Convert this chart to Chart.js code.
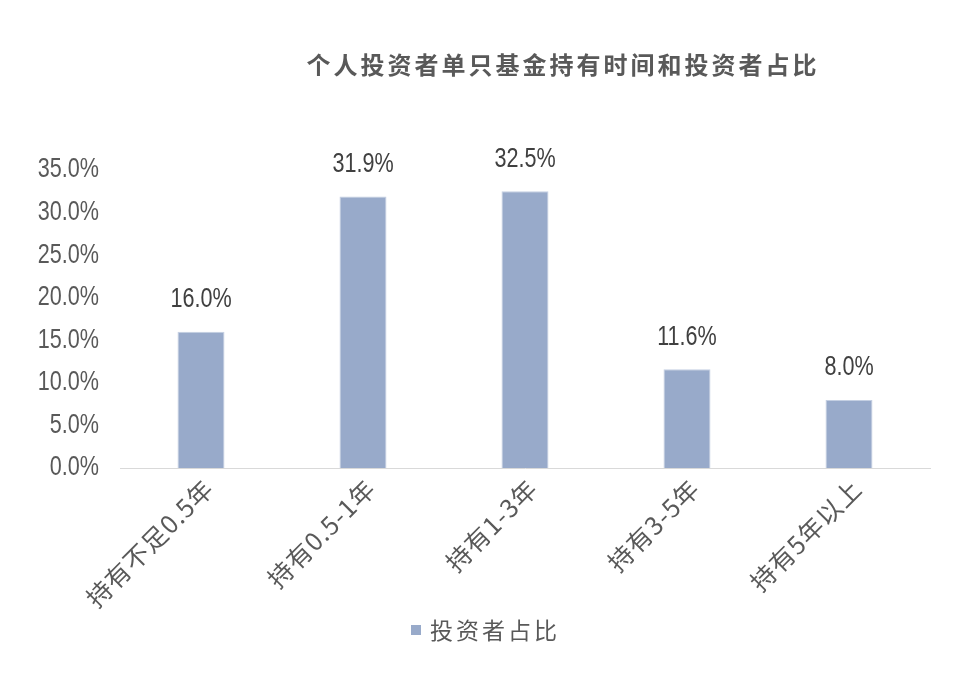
<!DOCTYPE html>
<html>
<head>
<meta charset="utf-8">
<script src="https://cdn.jsdelivr.net/npm/chart.js@4/dist/chart.umd.min.js"></script>
<style>
	html, body { margin: 0; padding: 0; background: #fff; }
	#wrap { width: 958px; height: 676px; }
</style>
</head>
<body>
<div id="wrap"><canvas id="chart"></canvas></div>
<script>
	var categories = ['持有不足0.5年', '持有0.5-1年', '持有1-3年', '持有3-5年', '持有5年以上'];
	var shareValues = [16.0, 31.9, 32.5, 11.6, 8.0];
	var seriesName = '投资者占比';
	var chartTitle = '个人投资者单只基金持有时间和投资者占比';

	var numFont = "'Liberation Sans', Arial, sans-serif";
	var cjkFont = "'Noto Sans CJK SC', 'Liberation Sans', sans-serif";
	var textColor = '#595959';
	var barColor = '#98aaca';

	// condensed number text, the original uses a narrow face
	var narrowText = function (ctx, text, x, y, align) {
		ctx.save();
		ctx.font = '27px ' + numFont;
		ctx.textAlign = align;
		ctx.textBaseline = 'middle';
		ctx.translate(x, y);
		ctx.scale(0.8, 1);
		ctx.fillText(text, 0, 0);
		ctx.restore();
	};

	var textPlugin = {
		id: 'textPlugin',
		afterDraw: function (chart) {
			var ctx = chart.ctx;
			var xScale = chart.scales.x, yScale = chart.scales.y;
			var area = chart.chartArea;

			// title
			ctx.save();
			ctx.font = 'bold 24px ' + cjkFont;
			ctx.letterSpacing = '3px';
			ctx.fillStyle = textColor;
			ctx.textAlign = 'center';
			ctx.textBaseline = 'middle';
			ctx.fillText(chartTitle, 563, 65);
			ctx.restore();

			// y ticks
			ctx.save();
			ctx.fillStyle = textColor;
			yScale.ticks.forEach(function (t) {
				narrowText(ctx, t.value.toFixed(1) + '%', area.left - 21, yScale.getPixelForValue(t.value), 'right');
			});
			ctx.restore();

			// x labels, rotated
			ctx.save();
			ctx.font = '25px ' + cjkFont;
			ctx.letterSpacing = '1px';
			ctx.fillStyle = textColor;
			ctx.textAlign = 'right';
			ctx.textBaseline = 'middle';
			categories.forEach(function (c, i) {
				var x = xScale.getPixelForTick(i);
				ctx.save();
				ctx.translate(x + 8, area.bottom + 16);
				ctx.rotate(-Math.PI / 4);
				ctx.fillText(c, 0, 0);
				ctx.restore();
			});
			ctx.restore();

			// legend
			var ds = chart.data.datasets[0];
			ctx.save();
			ctx.fillStyle = ds.backgroundColor;
			ctx.fillRect(411, 625, 10, 10);
			ctx.font = '23px ' + cjkFont;
			ctx.letterSpacing = '3px';
			ctx.fillStyle = textColor;
			ctx.textAlign = 'left';
			ctx.textBaseline = 'middle';
			ctx.fillText(ds.label, 430, 630);
			ctx.restore();
		},
		afterDatasetsDraw: function (chart) {
			var ctx = chart.ctx;
			var meta = chart.getDatasetMeta(0);
			ctx.save();
			ctx.fillStyle = '#404040';
			meta.data.forEach(function (bar, i) {
				narrowText(ctx, shareValues[i].toFixed(1) + '%', bar.x, bar.y - 32, 'center');
			});
			ctx.restore();
		}
	};

	new Chart(document.getElementById('chart'), {
		type: 'bar',
		data: {
			labels: categories,
			datasets: [{
				label: seriesName,
				data: shareValues,
				backgroundColor: barColor,
				borderColor: '#c4cfe2',
				borderWidth: 1,
				categoryPercentage: 1,
				barPercentage: 0.29
			}]
		},
		options: {
			responsive: true,
			maintainAspectRatio: false,
			animation: false,
			layout: { padding: { top: 170, right: 28, bottom: 108, left: 0 } },
			plugins: {
				title: { display: false },
				tooltip: { enabled: false },
				legend: { display: false }
			},
			scales: {
				x: {
					grid: { display: false },
					border: { color: '#d9d9d9', width: 1 },
					ticks: { display: false },
					afterFit: function (scale) { scale.height = 100; }
				},
				y: {
					min: 0,
					max: 35,
					grid: { display: false, drawTicks: false },
					border: { display: false },
					ticks: { stepSize: 5, display: false },
					afterFit: function (scale) { scale.width = 120; }
				}
			}
		},
		plugins: [textPlugin]
	});
</script>
</body>
</html>
